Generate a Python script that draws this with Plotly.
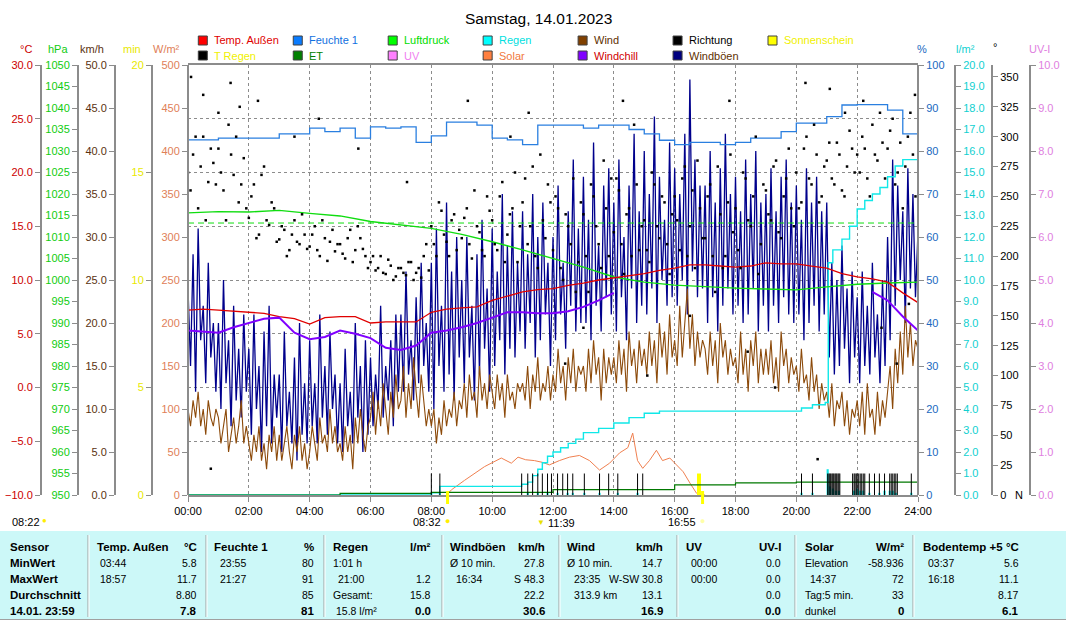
import plotly.graph_objects as go

W, H = 1066, 624
PX0, PX1, PY0, PY1 = 188, 918, 65, 495
FONT = "Liberation Sans, Arial, sans-serif"


def fx(p):
    return p / W


def fy(p):
    return 1 - p / H


# ---------------- data ----------------
title_text = "Samstag, 14.01.2023"
x_tick_vals = [0, 2, 4, 6, 8, 10, 12, 14, 16, 18, 20, 22, 24]
x_tick_text = ["00:00", "02:00", "04:00", "06:00", "08:00", "10:00", "12:00",
               "14:00", "16:00", "18:00", "20:00", "22:00", "24:00"]

# half-hourly series (00:00 .. 24:00)
temp_c = [7.2, 7.3, 7.2, 7.1, 7.0, 6.9, 6.6, 6.4, 5.9, 6.5, 6.6, 6.6, 6.0, 6.1, 6.1, 6.1,
          7.0, 7.3, 7.4, 7.5, 8.1, 8.5, 8.9, 9.1, 9.2, 9.5, 9.7, 10.0, 10.2, 10.4, 10.6, 10.9,
          11.1, 11.4, 11.4, 11.3, 11.2, 11.3, 11.6, 11.5, 11.5, 11.3, 11.1, 10.6, 10.3, 10.1,
          9.8, 8.8, 7.9]
windchill_c = [5.3, 5.2, 5.1, 5.6, 6.0, 6.4, 6.5, 5.1, 4.5, 4.7, 5.3, 5.0, 4.6, 3.7, 3.5, 3.9,
               5.1, 5.3, 5.6, 6.0, 6.5, 7.0, 7.0, 6.9, 6.9, 7.1, 7.5, 8.1, 8.8,
               None, None, None, None, None, None, None, None, None, None, None, None,
               None, None, None, None, 8.9, 8.1, 6.6, 5.3]
humidity_pct = [82.6, 82.6, 83.0, 83.0, 83.0, 83.0, 84.0, 84.0, 85.3, 84.5, 85.3, 83.0, 85.6,
                85.3, 85.6, 82.0, 83.5, 86.7, 86.7, 86.0, 83.0, 82.6, 81.5, 86.0, 86.0, 86.0,
                85.3, 86.0, 86.0, 85.0, 84.0, 82.5, 81.5, 82.0, 82.0, 81.5, 82.0, 83.0, 83.0,
                84.5, 86.5, 86.5, 88.0, 90.7, 90.8, 90.8, 89.5, 84.0, 80.5]

# hourly pressure
pressure_hpa = [1015.6, 1015.9, 1015.8, 1016.2, 1015.5, 1014.9, 1013.6, 1012.8, 1012.0, 1010.6,
                1008.9, 1007.0, 1005.0, 1003.0, 1000.7, 999.5, 998.8, 998.4, 998.1, 997.9,
                997.7, 998.4, 999.0, 999.3, 999.5]
pressure_ref = 1013.25

# 5-minute series (00:00 .. 24:00), one row per hour
wind_kmh = [10, 8, 11, 9, 12, 8, 10, 7, 11, 9, 8, 10,
            9, 6, 8, 10, 5, 7, 9, 6, 8, 11, 6, 8,
            6, 4, 7, 5, 8, 4, 6, 3, 7, 5, 8, 4,
            7, 4, 6, 8, 5, 3, 7, 5, 8, 4, 6, 3,
            5, 8, 6, 4, 9, 6, 7, 5, 10, 6, 8, 5,
            6, 4, 8, 5, 7, 3, 9, 6, 10, 7, 5, 8,
            9, 12, 7, 11, 8, 13, 10, 7, 12, 9, 14, 10,
            11, 15, 9, 13, 10, 16, 12, 9, 14, 11, 8, 10,
            8, 10, 6, 9, 7, 11, 8, 10, 9, 12, 8, 11,
            10, 13, 9, 14, 11, 12, 9, 15, 11, 13, 10, 14,
            12, 10, 14, 11, 13, 9, 14, 11, 12, 10, 13, 12,
            13, 11, 15, 10, 14, 12, 16, 11, 13, 12, 15, 11,
            14, 12, 17, 13, 15, 11, 16, 13, 17, 12, 15, 14,
            15, 12, 17, 13, 18, 14, 16, 11, 17, 13, 16, 14,
            16, 13, 18, 14, 17, 12, 19, 15, 17, 13, 18, 15,
            17, 14, 19, 15, 18, 13, 20, 16, 19, 14, 21, 16,
            18, 15, 22, 16, 20, 24, 17, 21, 15, 19, 16, 18,
            17, 14, 19, 15, 18, 13, 20, 16, 18, 14, 17, 15,
            16, 13, 19, 14, 17, 12, 18, 15, 19, 13, 17, 14,
            17, 14, 18, 13, 16, 12, 19, 15, 17, 13, 16, 14,
            15, 12, 17, 13, 14, 11, 16, 12, 14, 10, 13, 11,
            12, 9, 13, 8, 11, 10, 12, 8, 11, 7, 10, 9,
            11, 8, 12, 7, 13, 9, 10, 7, 12, 8, 11, 9,
            12, 15, 10, 17, 13, 19, 14, 22, 16, 20, 15, 18,
            17]
gust_kmh = [24, 15, 28, 12, 31, 18, 22, 13, 27, 16, 20, 12,
            20, 10, 25, 13, 18, 8, 22, 11, 17, 9, 21, 12,
            17, 7, 21, 10, 15, 5, 19, 8, 22, 6, 14, 9,
            14, 5, 19, 8, 12, 6, 16, 4, 20, 7, 13, 6,
            18, 8, 13, 6, 21, 9, 15, 7, 19, 10, 14, 6,
            13, 5, 17, 8, 12, 6, 20, 9, 15, 5, 18, 7,
            16, 8, 14, 10, 22, 9, 15, 11, 18, 8, 21, 12,
            21, 12, 26, 14, 18, 11, 23, 13, 27, 15, 20, 12,
            27, 10, 31, 15, 22, 12, 34, 14, 26, 11, 30, 16,
            25, 13, 30, 16, 22, 11, 28, 14, 32, 17, 24, 12,
            31, 15, 26, 18, 35, 14, 29, 17, 33, 16, 27, 19,
            33, 17, 28, 20, 35, 16, 30, 18, 34, 21, 27, 15,
            30, 18, 36, 21, 27, 17, 33, 22, 39, 19, 31, 20,
            37, 20, 32, 18, 41, 22, 29, 19, 36, 23, 38, 21,
            34, 19, 39, 23, 30, 18, 36, 24, 42, 20, 33, 22,
            40, 21, 35, 24, 44, 20, 37, 25, 32, 22, 41, 23,
            38, 22, 35, 25, 42, 21, 48.3, 26, 39, 23, 36, 24,
            36, 20, 40, 23, 34, 19, 38, 22, 42, 24, 35, 21,
            37, 22, 33, 20, 39, 21, 35, 24, 40, 19, 34, 22,
            35, 19, 38, 22, 33, 20, 37, 23, 39, 21, 34, 20,
            36, 21, 32, 18, 38, 20, 34, 22, 37, 19, 33, 21,
            34, 16, 27, 14, 25, 15, 29, 17, 24, 13, 26, 16,
            23, 13, 26, 15, 22, 14, 27, 16, 21, 13, 25, 15,
            30, 18, 39, 22, 36, 25, 33, 20, 38, 24, 35, 23,
            30.6]

# wind direction (degrees), 10-minute samples at :00 and at :05
dir_a = [270, 285, 240, 300, 262, 278, 290, 255, 310, 268, 245, 282,
         232, 260, 218, 275, 226, 240, 214, 222, 205, 230, 210, 218,
         208, 225, 200, 215, 212, 204, 210, 198, 222, 205, 215, 200,
         195, 188, 200, 185, 192, 183, 190, 184, 195, 186, 182, 210,
         225, 200, 238, 212, 230, 205, 215, 240, 198, 225, 205, 250,
         230, 205, 262, 218, 240, 195, 245, 210, 275, 190, 230, 260,
         205, 240, 180, 225, 265, 195, 235, 170, 250, 210, 280, 200,
         220, 255, 185, 240, 310, 205, 230, 195, 260, 215, 245, 185,
         250, 205, 275, 225, 190, 240, 215, 260, 170, 235, 200, 285,
         240, 190, 265, 225, 300, 210, 255, 230, 280, 215, 265, 240,
         270, 245, 300, 260, 285, 250, 280, 265, 295, 255, 275, 290,
         285, 300, 265, 310, 280, 295, 290, 315, 270, 240, 300, 285]
dir_b = [255, 300, 275, 230, 290, 260, 270, 230, 285, 300, 260, 240,
         250, 215, 268, 230, 245, 212, 225, 200, 218, 212, 235, 206,
         218, 205, 230, 196, 222, 210, 202, 215, 195, 225, 206, 190,
         200, 190, 186, 197, 180, 190, 186, 195, 180, 190, 200, 188,
         210, 245, 218, 200, 235, 222, 232, 210, 255, 220, 200, 238,
         210, 250, 195, 235, 270, 225, 265, 225, 200, 285, 215, 245,
         250, 190, 235, 210, 170, 245, 200, 260, 225, 190, 240, 265,
         265, 210, 235, 200, 260, 225, 205, 270, 225, 250, 210, 235,
         230, 265, 200, 255, 280, 215, 250, 200, 275, 190, 245, 220,
         205, 270, 230, 250, 185, 260, 235, 275, 220, 250, 290, 225,
         240, 290, 265, 310, 245, 275, 295, 260, 285, 250, 305, 270,
         270, 290, 250, 285, 320, 265, 305, 260, 295, 275, 320, 250]
dir_extra_t = [0.1, 0.5, 0.75, 1.0, 1.4, 1.7, 2.3, 3.5, 4.3, 5.6, 7.2, 9.2, 10.6, 11.2,
               12.4, 13.0, 14.3, 15.1, 16.5, 17.8, 18.4, 19.3, 20.3, 20.7, 21.1, 21.6,
               22.2, 22.8, 23.3, 23.7, 23.9]
dir_extra_v = [350, 335, 22, 320, 345, 325, 330, 300, 315, 290, 262, 330, 300, 320,
               110, 140, 330, 100, 150, 330, 120, 90, 345, 30, 340, 320,
               330, 140, 110, 160, 335]

# solar radiation W/m2
solar_t = [8.5, 8.66, 9.09, 9.42, 9.75, 10.3, 10.63, 10.85, 11.1, 11.39, 11.65, 11.88,
           12.21, 12.54, 12.87, 13.2, 13.53, 13.86, 14.19, 14.46, 14.62, 14.78, 14.95,
           15.17, 15.4, 15.6, 15.84, 16.06, 16.28, 16.5, 16.72, 16.9, 17.0]
solar_w = [0, 6, 17, 25, 33, 43, 37, 44, 41, 40, 38, 35, 40, 44, 46, 40, 29, 37, 49, 55,
           72, 40, 31, 40, 52, 40, 43, 35, 27, 14, 2, 0, 0]

# cumulative rain l/m2
rain_t = [0, 8.0, 8.28, 10.97, 11.17, 11.33, 11.5, 11.65, 11.82, 12.0, 12.25, 12.5, 12.75,
          13.0, 13.5, 14.0, 14.5, 15.0, 15.5, 19.9, 20.17, 20.53, 20.95, 21.05, 21.2, 21.5,
          21.75, 22.0, 22.25, 22.5, 22.75, 23.0, 23.25, 23.5, 24.0]
rain_l = [0, 0.1, 0.4, 0.5, 0.6, 0.9, 1.2, 1.5, 1.8, 2.0, 2.2, 2.4, 2.6, 2.9, 3.1, 3.35,
          3.6, 3.8, 3.9, 3.9, 4.05, 4.2, 4.3, 10.8, 11.4, 11.9, 12.5, 13.3, 13.7, 14.0,
          14.3, 14.8, 15.3, 15.6, 15.8]
# rain rate l/m2
rate_t = [8.0, 8.28, 11.17, 11.5, 11.82, 12.15, 12.48, 12.65, 13.03, 13.53, 14.13, 14.78,
          20.17, 20.53, 21.03, 21.1, 21.2, 21.3, 21.4, 21.9, 22.0, 22.1, 22.2, 22.4, 22.73,
          22.9, 23.07, 23.17, 23.27, 23.78]
rate_l = [0.1, 0.1, 0.1, 0.1, 0.1, 0.1, 0.1, 0.1, 0.1, 0.1, 0.1, 0.1, 0.1, 0.1, 1.2, 0.4,
          0.3, 0.2, 0.2, 0.2, 0.3, 0.2, 0.2, 0.1, 0.1, 0.2, 0.2, 0.2, 0.1, 0.1]
# evapotranspiration l/m2
et_t = [0, 1.0, 5.0, 8.0, 12.0, 16.0, 18.0, 20.0, 24.0]
et_l = [0, 0, 0.08, 0.12, 0.25, 0.47, 0.56, 0.6, 0.7]
# rain event marks (T Regen)
train_t = [8.0, 8.28, 10.97, 11.17, 11.33, 11.5, 11.65, 11.82, 11.95, 12.15, 12.32, 12.48,
           12.65, 13.03, 13.53, 13.83, 14.13, 14.78, 14.95, 20.17, 20.53, 21.03, 21.07,
           21.1, 21.13, 21.17, 21.2, 21.23, 21.27, 21.3, 21.33, 21.37, 21.4, 21.43, 21.85,
           21.9, 21.93, 21.97, 22.0, 22.05, 22.1, 22.15, 22.2, 22.25, 22.4, 22.57, 22.73,
           22.9, 23.07, 23.12, 23.17, 23.22, 23.27, 23.32, 23.78]
# sunshine minutes
sun_t = [16.8]
sun_min = [1.0]
# UV index
uv_t = [0, 24]
uv_i = [0, 0]

sunrise_h, sunrise_lbl = 8.533, "08:32"
sunset_h, sunset_lbl = 16.917, "16:55"
noon_h, noon_lbl = 11.65, "11:39"
daylen_lbl = "08:22"

# summary table
row_names = ["Sensor", "MinWert", "MaxWert", "Durchschnitt", "14.01. 23:59"]
tbl_head = ["Temp. Außen", "Feuchte 1", "Regen", "Windböen", "Wind", "UV", "Solar", "Bodentemp +5"]
tbl_unit = ["°C", "%", "l/m²", "km/h", "km/h", "UV-I", "W/m²", "°C"]
tbl_lab = [["03:44", "18:57", "", ""], ["23:55", "21:27", "", ""],
           ["1:01 h", "21:00", "Gesamt:", "15.8 l/m²"], ["Ø 10 min.", "16:34", "", ""],
           ["Ø 10 min.", "23:35", "313.9 km", ""], ["00:00", "00:00", "", ""],
           ["Elevation", "14:37", "Tag:5 min.", "dunkel"], ["03:37", "16:18", "", ""]]
tbl_val = [["5.8", "11.7", "8.80", "7.8"], ["80", "91", "85", "81"], ["", "1.2", "15.8", "0.0"],
           ["27.8", "S 48.3", "22.2", "30.6"], ["14.7", "W-SW 30.8", "13.1", "16.9"],
           ["0.0", "0.0", "0.0", "0.0"], ["-58.936", "72", "33", "0"],
           ["5.6", "11.1", "8.17", "6.1"]]

# ---------------- style ----------------
C_TEMP, C_HUM, C_PRES, C_RAIN = "#e00000", "#2a7fe0", "#10dd10", "#10e8e8"
C_WIND, C_GUST, C_WC, C_SOLAR = "#8c4a0a", "#00008c", "#8000ff", "#f08050"
C_ET, C_UV, C_SUN = "#007800", "#f080f0", "#ffff00"
GRAY = "#8c8c8c"

t_half = [i * 0.5 for i in range(len(temp_c))]
t_hour = [i * 1.0 for i in range(len(pressure_hpa))]
t_5 = [i / 12 for i in range(len(wind_kmh))]
t_10 = [i / 6 for i in range(len(dir_a))]
t_10b = [i / 6 + 1 / 12 for i in range(len(dir_b))]

fig = go.Figure()
# y1: km/h
fig.add_trace(go.Scatter(x=t_5, y=gust_kmh, yaxis="y", mode="lines",
                         line=dict(color=C_GUST, width=1.3)))
fig.add_trace(go.Scatter(x=t_5, y=wind_kmh, yaxis="y", mode="lines",
                         line=dict(color=C_WIND, width=1.1)))
# y2: W/m2
fig.add_trace(go.Scatter(x=solar_t, y=solar_w, yaxis="y2", mode="lines",
                         line=dict(color=C_SOLAR, width=1)))
# y3: min sunshine
fig.add_trace(go.Bar(x=sun_t, y=sun_min, yaxis="y3", width=0.13,
                     marker=dict(color=C_SUN, line=dict(width=0))))
# y4: l/m2
fig.add_trace(go.Bar(x=rate_t, y=rate_l, yaxis="y4", width=0.07,
                     marker=dict(color=C_RAIN, line=dict(width=0))))
fig.add_trace(go.Scatter(x=rain_t, y=rain_l, yaxis="y4", mode="lines", line_shape="hv",
                         line=dict(color=C_RAIN, width=1.4)))
fig.add_trace(go.Scatter(x=et_t, y=et_l, yaxis="y4", mode="lines", line_shape="hv",
                         line=dict(color=C_ET, width=1.2)))
# y5: % humidity + rain marks
TICK_H = 5
tr_x, tr_y = [], []
for t in train_t:
    tr_x += [t, t, None]
    tr_y += [0, TICK_H, None]
fig.add_trace(go.Scatter(x=tr_x, y=tr_y, yaxis="y5", mode="lines",
                         line=dict(color="#000000", width=1)))
fig.add_trace(go.Scatter(x=t_half, y=humidity_pct, yaxis="y5", mode="lines", line_shape="hv",
                         line=dict(color=C_HUM, width=1.3)))
# y6: hPa
fig.add_trace(go.Scatter(x=[0, 24], y=[pressure_ref, pressure_ref], yaxis="y6", mode="lines",
                         line=dict(color=C_PRES, width=1, dash="6px,4px")))
fig.add_trace(go.Scatter(x=t_hour, y=pressure_hpa, yaxis="y6", mode="lines",
                         line=dict(color=C_PRES, width=1.4)))
# y7: degC
fig.add_trace(go.Scatter(x=t_half, y=temp_c, yaxis="y7", mode="lines",
                         line=dict(color=C_TEMP, width=1.3)))
fig.add_trace(go.Scatter(x=t_half, y=windchill_c, yaxis="y7", mode="lines",
                         line=dict(color=C_WC, width=2)))
# y8: UV
fig.add_trace(go.Scatter(x=uv_t, y=uv_i, yaxis="y8", mode="lines",
                         line=dict(color=C_UV, width=0)))
# y9: direction
fig.add_trace(go.Scatter(x=t_10 + t_10b + dir_extra_t,
                         y=dir_a + dir_b + dir_extra_v, yaxis="y9", mode="markers",
                         marker=dict(color="#000000", size=2.5, symbol="square",
                                     line=dict(width=0))))

YDOM = [fy(PY1), fy(PY0)]


def yax(pos, rng, dtick, color, side, fmt, overlay=True, grid=False):
    cfg = dict(domain=YDOM, range=rng, dtick=dtick, tick0=rng[0], anchor="free",
               position=pos, side=side, showline=True, linecolor=GRAY, linewidth=2,
               ticks="outside", ticklen=5, tickwidth=1, tickcolor=GRAY,
               tickfont=dict(family=FONT, size=11, color=color), tickformat=fmt,
               showgrid=grid, zeroline=False, automargin=False, fixedrange=True)
    if overlay:
        cfg["overlaying"] = "y"
    if grid:
        cfg.update(gridcolor=GRAY, griddash="3px,3px", gridwidth=1)
    return cfg


layout = dict(
    width=W, height=H, margin=dict(l=0, r=0, t=0, b=0),
    paper_bgcolor="white", plot_bgcolor="white", showlegend=False, barmode="overlay",
    xaxis=dict(domain=[fx(PX0), fx(PX1)], range=[0, 24], anchor="y",
               tickvals=x_tick_vals, ticktext=x_tick_text, ticks="outside", ticklen=5,
               tickcolor=GRAY, tickfont=dict(family=FONT, size=11, color="#000000"),
               showline=True, mirror=True, linecolor=GRAY, linewidth=2,
               showgrid=True, gridcolor=GRAY, griddash="3px,3px", gridwidth=1,
               zeroline=False, automargin=False, fixedrange=True),
    yaxis=yax(fx(115), [0, 50], 5, "#5a3210", "left", ".1f", overlay=False),
    yaxis2=yax(fx(PX0), [0, 500], 50, "#e08058", "left", "d"),
    yaxis3=yax(fx(152), [0, 20], 5, "#e8e800", "left", "d"),
    yaxis4=yax(fx(955), [0, 20], 1, "#10d0d0", "right", ".1f"),
    yaxis5=yax(fx(PX1), [0, 100], 10, "#2068c0", "right", "d"),
    yaxis6=yax(fx(78), [950, 1050], 5, "#10cc10", "left", "d"),
    yaxis7=yax(fx(41), [-10, 30], 5, "#cc0000", "left", ".1f", grid=True),
    yaxis8=yax(fx(1030), [0, 10], 1, "#e080e0", "right", ".1f"),
    yaxis9=yax(fx(992), [0, 360], 25, "#000000", "right", "d"),
)
fig.update_layout(**layout)

ann = []
shapes = []


def txt(x, y, s, color="#000000", size=11, xanchor="center", bold=False, xref="paper", xshift=0):
    ann.append(dict(x=fx(x) if xref == "paper" else x, y=fy(y), xref=xref, yref="paper",
                    text=("<b>%s</b>" % s) if bold else s, showarrow=False,
                    xanchor=xanchor, yanchor="middle", xshift=xshift,
                    font=dict(family=FONT, size=size, color=color)))


# title
txt(538, 18, title_text, size=15.5)

# axis unit labels
for s, x, y, c in [("°C", 26, 49, "#cc0000"), ("hPa", 58, 49, "#10cc10"),
                   ("km/h", 92, 49, "#5a3210"), ("min", 132, 49, "#e8e800"),
                   ("W/m²", 166, 49, "#e08058"), ("%", 922, 49, "#2068c0"),
                   ("l/m²", 965, 49, "#10d0d0"), ("°", 995, 47, "#000000"),
                   ("UV-I", 1039, 49, "#e080e0")]:
    txt(x, y, s, c, size=11)
txt(1019, 495, "N", "#000000", size=11)

# legend
leg_rows = [
    [("Temp. Außen", "#ff0000", "#e00000"), ("Feuchte 1", "#0a7cff", "#1070e0"),
     ("Luftdruck", "#00ff00", "#00dd00"), ("Regen", "#00ffff", "#00e0e0"),
     ("Wind", "#804000", "#603000"), ("Richtung", "#000000", "#000000"),
     ("Sonnenschein", "#ffff00", "#f0f000")],
    [("T Regen", "#000000", "#f0f000"), ("ET", "#008000", "#008000"),
     ("UV", "#ff80ff", "#f080f0"), ("Solar", "#ff8040", "#f07840"),
     ("Windchill", "#8000ff", "#d00000"), ("Windböen", "#000080", "#603000")],
]
for r, row in enumerate(leg_rows):
    yc = 40.5 + r * 15
    for i, (lab, sq, tc) in enumerate(row):
        x0 = 198.3 + i * 94.95
        shapes.append(dict(type="rect", xref="paper", yref="paper", x0=fx(x0), x1=fx(x0 + 9),
                           y0=fy(yc + 4.5), y1=fy(yc - 4.5), fillcolor=sq,
                           line=dict(color="#404040", width=1)))
        txt(x0 + 13.5, yc, lab, tc, size=11, xanchor="left")

# sun times under the x axis
for h in (sunrise_h, sunset_h):
    shapes.append(dict(type="line", xref="x", yref="paper", x0=h, x1=h, y0=fy(504), y1=fy(491),
                       line=dict(color=C_SUN, width=3)))
txt(sunrise_h, 522, sunrise_lbl, xanchor="right", xref="x", xshift=-5)
txt(sunrise_h, 521, "●", "#ffee00", size=9, xref="x")
txt(sunset_h, 522, sunset_lbl, xanchor="right", xref="x", xshift=-5)
txt(sunset_h, 521, "●", "#ffffa8", size=9, xref="x")
txt(noon_h, 522, "▼", "#e8e000", size=8, xref="x", xshift=-1)
txt(noon_h, 523, noon_lbl, xanchor="left", xref="x", xshift=4)
txt(10, 522, daylen_lbl, "#000000", size=11, xanchor="left")
txt(44, 520, "●", "#ffee00", size=8)

# table
shapes.append(dict(type="rect", xref="paper", yref="paper", x0=0, x1=1, y0=fy(619),
                   y1=fy(531), fillcolor="#ccf8f8", line=dict(width=0), layer="below"))
shapes.append(dict(type="line", xref="paper", yref="paper", x0=0, x1=1, y0=fy(619.5),
                   y1=fy(619.5), line=dict(color="#a0a0a0", width=1)))
seps = [88, 206, 324, 442, 559, 677, 795, 913]
for s in seps:
    shapes.append(dict(type="line", xref="paper", yref="paper", x0=fx(s), x1=fx(s),
                       y0=fy(617), y1=fy(535), line=dict(color="#a0a0a0", width=1)))
    shapes.append(dict(type="line", xref="paper", yref="paper", x0=fx(s + 1), x1=fx(s + 1),
                       y0=fy(617), y1=fy(535), line=dict(color="#ffffff", width=1)))
row_y = [546.5, 563.4, 579.2, 595.4, 611.3]
col_left = [95, 212, 331, 448, 565, 684, 803, 921]
col_right = [199, 316, 433, 547, 665, 783, 906, 1021]
lab_indent = [[3, 3, 0, 0], [6, 6, 0, 0], [0, 5, 0, 3], [0, 6, 0, 0],
              [0, 7, 7, 0], [5, 5, 0, 0], [0, 5, 0, 0], [5, 5, 0, 0]]
for r, name in enumerate(row_names):
    txt(8, row_y[r], name, "#000000", size=11.5, xanchor="left", bold=True)
for c in range(len(tbl_head)):
    txt(col_left[c], row_y[0], tbl_head[c], "#000000", size=11.5, xanchor="left", bold=True)
    txt(col_right[c], row_y[0], tbl_unit[c], "#000000", size=11.5, xanchor="right", bold=True)
    for r in range(4):
        if tbl_lab[c][r]:
            txt(col_left[c] + lab_indent[c][r], row_y[r + 1], tbl_lab[c][r], "#000000",
                size=10.5, xanchor="left")
        if tbl_val[c][r]:
            txt(col_right[c], row_y[r + 1], tbl_val[c][r], "#000000",
                size=11.5 if r == 3 else 10.5, xanchor="right", bold=(r == 3))

fig.update_layout(annotations=ann, shapes=shapes)
fig.write_html("out.html", config={"displayModeBar": False},
               post_script="document.body.style.margin='0';document.body.style.overflow='hidden';")
